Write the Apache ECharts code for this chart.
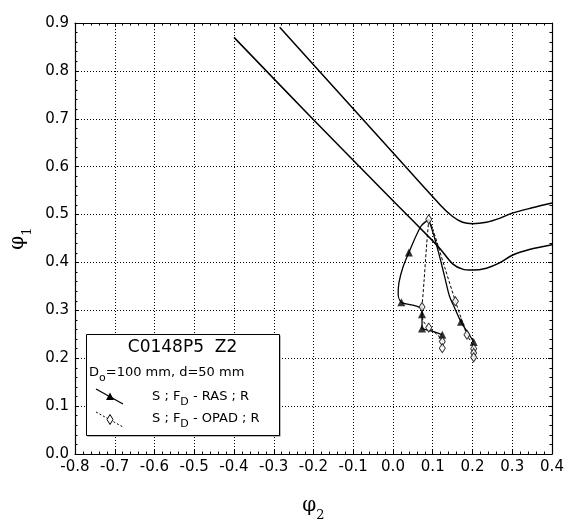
<!DOCTYPE html>
<html><head><meta charset="utf-8">
<script src="https://cdn.jsdelivr.net/npm/echarts@6/dist/echarts.min.js"></script>
<style>html,body{margin:0;padding:0;background:#fff}#c{width:568px;height:527px}</style>
</head><body><div id="c"></div>
<script>
// ---- axis ranges / ticks ----
const xMin = -0.8, xMax = 0.4, xStep = 0.1;
const yMin = 0.0, yMax = 0.9, yStep = 0.1;
const xTitle = ['φ', '2'];
const yTitle = ['φ', '1'];

// ---- limit curves (no markers) ----
const limitLower = [[-0.40,0.870],[-0.20,0.698],[0.00,0.529],[0.10,0.445],[0.12,0.427],[0.15,0.397],[0.175,0.386],[0.20,0.384],[0.235,0.388],[0.268,0.399],[0.30,0.415],[0.343,0.427],[0.40,0.437]];
const limitUpper = [[-0.285,0.891],[-0.10,0.721],[0.00,0.629],[0.12,0.519],[0.15,0.496],[0.175,0.484],[0.20,0.481],[0.235,0.484],[0.268,0.492],[0.30,0.503],[0.35,0.514],[0.40,0.524]];

// ---- series "S ; FD - RAS ; R" (solid, triangles) ----
const rasPathA = [[0.09,0.490],[0.07,0.475],[0.04,0.421],[0.025,0.390],[0.015,0.358],[0.013,0.334],[0.021,0.317],[0.05,0.311],[0.073,0.305]];
const rasPathB = [[0.073,0.305],[0.073,0.292],[0.073,0.262]];
const rasPathC = [[0.073,0.262],[0.10,0.256],[0.124,0.249]];
const rasPathD = [[0.09,0.490],[0.105,0.450],[0.118,0.410],[0.130,0.370],[0.142,0.330],[0.155,0.305],[0.171,0.276],[0.188,0.254],[0.203,0.234]];
const rasPoints = [[0.04,0.421],[0.021,0.317],[0.073,0.292],[0.073,0.262],[0.124,0.249],[0.171,0.276],[0.203,0.234]];

// ---- series "S ; FD - OPAD ; R" (dashed, diamonds) ----
const opadPathA = [[0.09,0.490],[0.084,0.430],[0.078,0.360],[0.073,0.307]];
const opadPathB = [[0.073,0.307],[0.075,0.280],[0.09,0.264],[0.11,0.250],[0.124,0.235],[0.124,0.221]];
const opadPathC = [[0.09,0.490],[0.10,0.470],[0.13,0.390],[0.157,0.319],[0.175,0.275],[0.186,0.249],[0.203,0.220],[0.203,0.202]];
const opadPoints = [[0.09,0.490],[0.073,0.307],[0.09,0.264],[0.124,0.235],[0.124,0.221],[0.157,0.319],[0.186,0.249],[0.203,0.220],[0.203,0.211],[0.203,0.202]];

// ---- legend texts ----
const legendTitle = 'C0148P5  Z2';
const legendSub = ['D', 'o', '=100 mm, d=50 mm'];
const legendRas = ['S ; F', 'D', ' - RAS ; R'];
const legendOpad = ['S ; F', 'D', ' - OPAD ; R'];

const FONT = 'DejaVu Sans';
const chart = echarts.init(document.getElementById('c'), null, {renderer:'canvas'});

function lineSeries(data, dashed, w) {
  return {type:'line', data, showSymbol:false, smooth:0.3, animation:false, silent:true,
    lineStyle:{color:'#000', width:w, type: dashed ? [3,2] : 'solid'}, z:3};
}
function axisCommon(pos, showLabel) {
  return {
    type:'value', position:pos,
    axisLine:{show:true, onZero:false, lineStyle:{color:'#000', width:1.2}},
    axisTick:{show:true, inside:true, length:4, lineStyle:{color:'#000'}},
    minorTick:{show:true, splitNumber:5, length:2.5, lineStyle:{color:'#000'}},
    axisLabel:{show:showLabel, color:'#000', fontFamily:FONT, fontSize:15, margin:6, formatter:v=>v.toFixed(1)},
    splitLine:{show:showLabel, lineStyle:{color:'#000', width:1, type:[1,2]}}
  };
}
const titleRich = {
  p:{fontFamily:'DejaVu Serif', fontSize:20, color:'#000', lineHeight:30},
  s:{fontFamily:'DejaVu Serif', fontSize:13, color:'#000', lineHeight:32, verticalAlign:'bottom'}
};
const xa = Object.assign(axisCommon('bottom', true), {min:xMin, max:xMax, interval:xStep,
  name:'{p|'+xTitle[0]+'}{s|'+xTitle[1]+'}', nameLocation:'middle', nameGap:36, nameTextStyle:{rich:titleRich}});
const xa2 = Object.assign(axisCommon('top', false), {min:xMin, max:xMax, interval:xStep});
const ya = Object.assign(axisCommon('left', true), {min:yMin, max:yMax, interval:yStep,
  name:'{p|'+yTitle[0]+'}{s|'+yTitle[1]+'}', nameLocation:'middle', nameGap:40, nameTextStyle:{rich:titleRich}});
const ya2 = Object.assign(axisCommon('right', false), {min:yMin, max:yMax, interval:yStep});

const subRich = {
  n:{fill:'#000', fontFamily:FONT, fontSize:13, lineHeight:20},
  s:{fill:'#000', fontFamily:FONT, fontSize:11, lineHeight:22, verticalAlign:'bottom'}
};
const LX = 86, LY = 334, LW = 193, LH = 101;
const graphic = [
  {type:'rect', z:50, shape:{x:LX+1.5, y:LY+1.5, width:LW, height:LH}, style:{fill:'#777'}},
  {type:'rect', z:51, shape:{x:LX+0.5, y:LY+0.5, width:LW, height:LH}, style:{fill:'#fff', stroke:'#000', lineWidth:1}},
  {type:'text', z:52, x:LX+LW/2, y:348, style:{text:legendTitle, fill:'#000', font:'17px "DejaVu Sans"', textAlign:'center', textVerticalAlign:'middle'}},
  {type:'text', z:52, x:89, y:373, style:{text:'{n|'+legendSub[0]+'}{s|'+legendSub[1]+'}{n|'+legendSub[2]+'}', rich:subRich, textAlign:'left', textVerticalAlign:'middle'}},
  {type:'line', z:52, shape:{x1:96, y1:389, x2:123, y2:404}, style:{stroke:'#000', lineWidth:1.3}},
  {type:'polygon', z:53, shape:{points:[[106,400],[110,392.5],[114,400]]}, style:{fill:'#000'}},
  {type:'text', z:52, x:152, y:397, style:{text:'{n|'+legendRas[0]+'}{s|'+legendRas[1]+'}{n|'+legendRas[2]+'}', rich:subRich, textAlign:'left', textVerticalAlign:'middle'}},
  {type:'line', z:52, shape:{x1:96, y1:412, x2:123, y2:427}, style:{stroke:'#000', lineWidth:1, lineDash:[2,2]}},
  {type:'polygon', z:53, shape:{points:[[110,414.5],[113,419.5],[110,424.5],[107,419.5]]}, style:{fill:'#fff', stroke:'#000', lineWidth:1}},
  {type:'text', z:52, x:152, y:419, style:{text:'{n|'+legendOpad[0]+'}{s|'+legendOpad[1]+'}{n|'+legendOpad[2]+'}', rich:subRich, textAlign:'left', textVerticalAlign:'middle'}}
];

const option = {
  animation:false,
  backgroundColor:'#fff',
  grid:{left:75, top:23, width:477, height:438, containLabel:false},
  xAxis:[xa, xa2],
  yAxis:[ya, ya2],
  graphic,
  series:[
    lineSeries(limitLower, false, 1.5),
    lineSeries(limitUpper, false, 1.5),
    lineSeries(rasPathA, false, 1.3),
    lineSeries(rasPathB, false, 1.3),
    lineSeries(rasPathC, false, 1.3),
    lineSeries(rasPathD, false, 1.3),
    lineSeries(opadPathA, true, 1),
    lineSeries(opadPathB, true, 1),
    lineSeries(opadPathC, true, 1),
    {name:'S ; FD - RAS ; R', type:'scatter', data:rasPoints, symbol:'triangle', symbolSize:[8,8], itemStyle:{color:'#000'}, z:5, silent:true},
    {name:'S ; FD - OPAD ; R', type:'scatter', data:opadPoints, symbol:'diamond', symbolSize:[6,9], itemStyle:{color:'#fff', borderColor:'#000', borderWidth:1}, z:6, silent:true}
  ]
};
chart.setOption(option);
</script></body></html>
